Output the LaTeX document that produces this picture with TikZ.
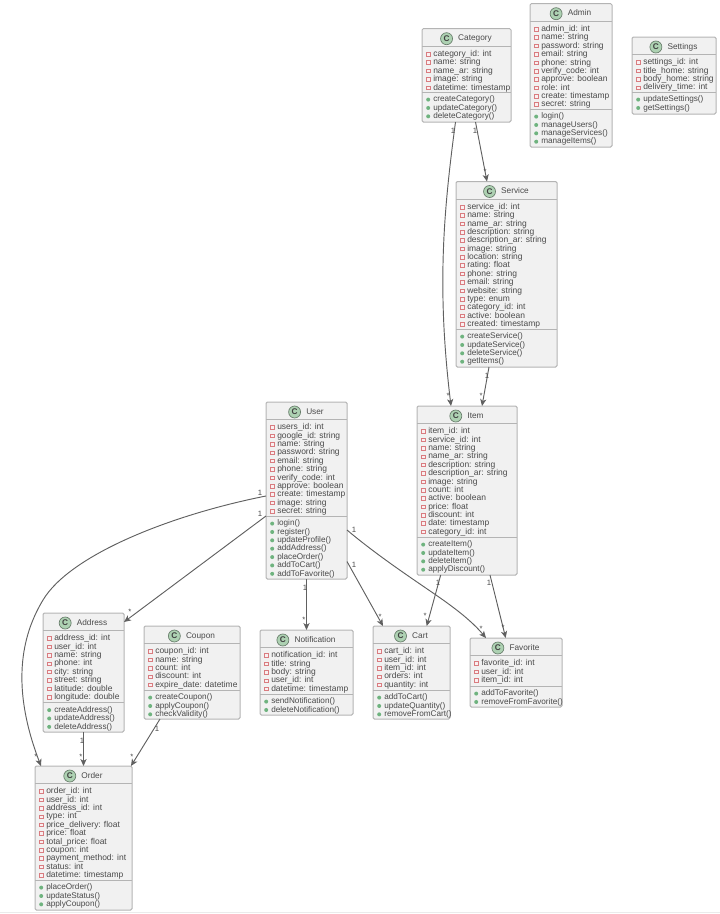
\documentclass[tikz,border=0pt]{standalone}
\usepackage{xcolor}
\usepackage{fontspec}
\setmainfont{Liberation Sans}
\usetikzlibrary{positioning,arrows.meta}
\definecolor{boxline}{HTML}{B4B4B4}
\definecolor{boxfill}{HTML}{F1F1F1}
\definecolor{rowtext}{HTML}{4A4A4A}
\definecolor{iconfill}{HTML}{ADD1B2}
\definecolor{attrred}{HTML}{D97C80}
\definecolor{methodgreen}{HTML}{6FB37F}
\definecolor{linkline}{HTML}{606060}
\tikzset{x=0.75pt,y=-0.75pt,
  classbox/.style={draw=boxline,fill=boxfill,line width=0.75pt,rounded corners=1pt,inner sep=0pt,outer sep=0pt},
  classline/.style={draw=boxline,line width=0.75pt},
  classtitle/.style={inner sep=0pt,text=rowtext,font=\fontsize{6.2}{8}\selectfont,text height=4.7pt,text depth=1.3pt},
  classicon/.style={circle,draw=iconfill!60!black,fill=iconfill,line width=0.5pt,minimum size=9pt,inner sep=0pt,text=black!75,font=\fontsize{6.2}{6}\bfseries\selectfont},
  classrow/.style={anchor=west,inner sep=0pt,text=rowtext,font=\fontsize{6.35}{8}\selectfont,text height=4.7pt,text depth=1.3pt},
  methodrow/.style={classrow,font=\fontsize{6.15}{8}\selectfont},
  attrmark/.style={draw=attrred,fill=attrred!12,line width=0.6pt},
  methodmark/.style={fill=methodgreen},
  relation/.style={draw=linkline,line width=0.7pt,-{Stealth[length=5.2pt,width=4.6pt,inset=1.4pt]}},
  mult/.style={inner sep=0pt,text=rowtext,font=\fontsize{5.8}{6}\selectfont}}
% name, title, left, top, right, bottom, separator, attributes, methods
\newcommand{\umlclass}[9]{
  \node[classbox,minimum width={(#5-#3)*0.75pt},minimum height={(#6-#4)*0.75pt}] (#1) at ({(#3+#5)/2},{(#4+#6)/2}) {};
  \draw[classline] (#3,#4+17.5) -- (#5,#4+17.5);
  \draw[classline] (#3,#7) -- (#5,#7);
  \node[classtitle] (#1title) at ({(#3+#5)/2+8.5},{#4+10}) {#2};
  \node[classicon,left=3.8pt of #1title] (#1icon) {C};
  \foreach \rowtext [count=\i] in {#8}{
    \pgfmathsetmacro{\rowy}{#4+25.6+8.37*(\i-1)}
    \draw[attrmark] (#3+4.3,\rowy-1.8) rectangle (#3+8,\rowy+1.8);
    \node[classrow] (#1a\i) at (#3+11,\rowy) {\rowtext};
  }
  \foreach \rowtext [count=\i] in {#9}{
    \pgfmathsetmacro{\rowy}{#7+7.6+8.37*(\i-1)}
    \fill[methodmark] (#3+6.2,\rowy) circle (2);
    \node[methodrow] (#1m\i) at (#3+11,\rowy) {\rowtext};
  }
}
\begin{document}
\begin{tikzpicture}
\useasboundingbox (0,0) rectangle (720,914);
\draw[black!8,line width=0.75pt] (0,912.6) -- (720,912.6);
\umlclass{category}{Category}{422}{28.7}{511}{122}{92}
  {category\_id: int,name: string,name\_ar: string,image: string,datetime: timestamp}
  {createCategory(),updateCategory(),deleteCategory()}
\umlclass{admin}{Admin}{530}{3.7}{612}{147}{109}
  {admin\_id: int,name: string,password: string,email: string,phone: string,verify\_code: int,approve: boolean,role: int,create: timestamp,secret: string}
  {login(),manageUsers(),manageServices(),manageItems()}
\umlclass{settings}{Settings}{632}{37}{716}{114}{92}
  {settings\_id: int,title\_home: string,body\_home: string,delivery\_time: int}
  {updateSettings(),getSettings()}
\umlclass{service}{Service}{456}{181.5}{557}{367}{329}
  {service\_id: int,name: string,name\_ar: string,description: string,description\_ar: string,image: string,location: string,rating: float,phone: string,email: string,website: string,type: enum,category\_id: int,active: boolean,created: timestamp}
  {createService(),updateService(),deleteService(),getItems()}
\umlclass{item}{Item}{417}{406}{517}{575}{537}
  {item\_id: int,service\_id: int,name: string,name\_ar: string,description: string,description\_ar: string,image: string,count: int,active: boolean,price: float,discount: int,date: timestamp,category\_id: int}
  {createItem(),updateItem(),deleteItem(),applyDiscount()}
\umlclass{user}{User}{266}{402}{347}{579}{516}
  {users\_id: int,google\_id: string,name: string,password: string,email: string,phone: string,verify\_code: int,approve: boolean,create: timestamp,image: string,secret: string}
  {login(),register(),updateProfile(),addAddress(),placeOrder(),addToCart(),addToFavorite()}
\umlclass{address}{Address}{43}{613}{124}{732}{702.5}
  {address\_id: int,user\_id: int,name: string,phone: int,city: string,street: string,latitude: double,longitude: double}
  {createAddress(),updateAddress(),deleteAddress()}
\umlclass{coupon}{Coupon}{144}{626}{240}{719}{690}
  {coupon\_id: int,name: string,count: int,discount: int,expire\_date: datetime}
  {createCoupon(),applyCoupon(),checkValidity()}
\umlclass{order}{Order}{35}{766}{132}{910}{880}
  {order\_id: int,user\_id: int,address\_id: int,type: int,price\_delivery: float,price: float,total\_price: float,coupon: int,payment\_method: int,status: int,datetime: timestamp}
  {placeOrder(),updateStatus(),applyCoupon()}
\umlclass{notification}{Notification}{260}{630}{353}{715}{694}
  {notification\_id: int,title: string,body: string,user\_id: int,datetime: timestamp}
  {sendNotification(),deleteNotification()}
\umlclass{cart}{Cart}{373}{626}{450}{719}{690}
  {cart\_id: int,user\_id: int,item\_id: int,orders: int,quantity: int}
  {addToCart(),updateQuantity(),removeFromCart()}
\umlclass{favorite}{Favorite}{470}{638}{562}{707}{686}
  {favorite\_id: int,user\_id: int,item\_id: int}
  {addToFavorite(),removeFromFavorite()}
% relations
\draw[relation] ([shift={(-11,0)}]category.south) .. controls (443,215) and (437,290) .. ([shift={(-16,0)}]item.north);
\draw[relation] ([shift={(9,0)}]category.south) -- ([shift={(-19.5,0)}]service.north);
\draw[relation] ([shift={(-17.5,0)}]service.south) -- ([shift={(15,0)}]item.north);
\draw[relation] ([shift={(0,25.5)}]user.west) -- ([shift={(0,-50.5)}]address.east);
\draw[relation] ([shift={(0,5.5)}]user.west) .. controls (170,515) and (70,555) .. (43,600) .. controls (25,630) and (8,680) .. ([shift={(-42.5,0)}]order.north);
\draw[relation] (user.south) -- (notification.north);
\draw[relation] ([shift={(0,71)}]user.east) -- ([shift={(-28.5,0)}]cart.north);
\draw[relation] ([shift={(0,39.5)}]user.east) .. controls (385,562) and (430,590) .. (450,605) .. controls (465,616) and (476,626) .. ([shift={(-30,0)}]favorite.north);
\draw[relation] ([shift={(-26.3,0)}]item.south) -- ([shift={(15.2,0)}]cart.north);
\draw[relation] ([shift={(23,0)}]item.south) -- ([shift={(-10.3,0)}]favorite.north);
\draw[relation] (address.south) -- (order.north);
\draw[relation] ([shift={(-32,0)}]coupon.south) -- ([shift={(47.5,0)}]order.north);
% multiplicities
\foreach \n/\mx/\my/\mt in {a/453/131/1,b/448/396/*,c/475/131/1,d/485/172/*,e/487/376/1,f/481/396/*,
  g/260/514/1,h/130/612/*,i/260/493/1,j/36/757/*,k/305/588/1,l/304/620/*,
  m/354/565/1,n/380/617/*,o/354/530/1,p/481/629/*,q/438/583/1,r/425/616/*,
  s/489/583/1,t/503/628/*,u/82/741/1,v/81/757/*,w/157/729/1,x/132/757/*}
  \node[mult] (mult\n) at (\mx,\my) {\mt};
\end{tikzpicture}
\end{document}
